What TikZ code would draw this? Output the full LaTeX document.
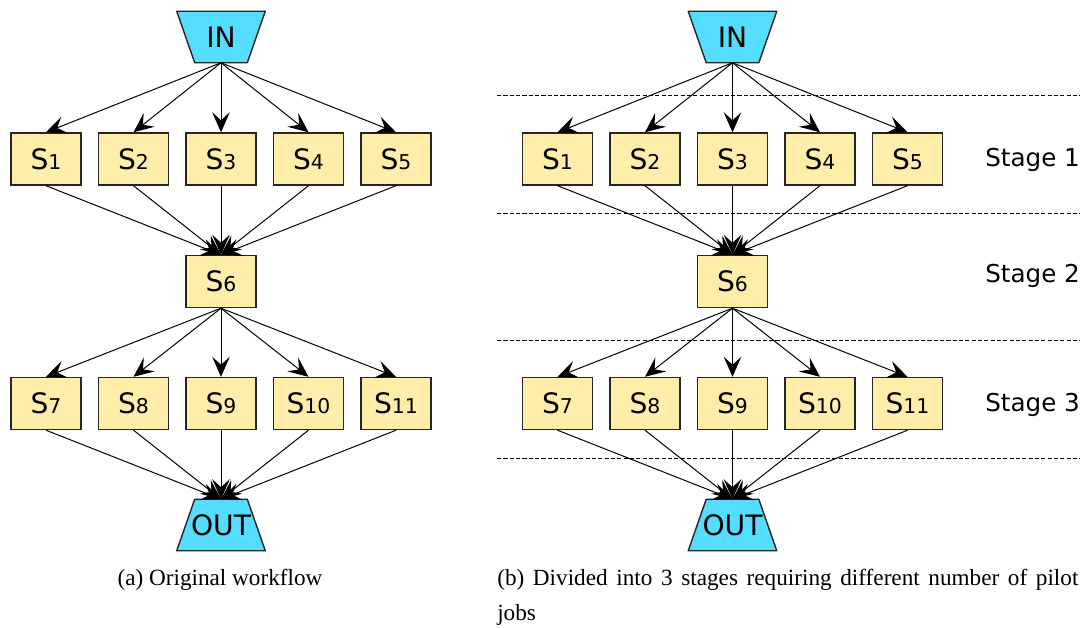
\documentclass[tikz,border=0pt]{standalone}
\usepackage{fontspec}
\setmainfont{Liberation Serif}
\setsansfont{DejaVu Sans}
\usetikzlibrary{arrows.meta,backgrounds}

\definecolor{taskfill}{RGB}{255,238,170}
\definecolor{iofill}{RGB}{85,221,255}
\newcommand{\stask}[1]{S{\fontsize{14.5}{14.5}\selectfont #1}}

\tikzset{
  task/.style={draw=black!85, fill=taskfill, line width=1pt,
    minimum width=1.75cm, minimum height=1.3cm, inner sep=0pt,
    font=\sffamily\fontsize{20}{20}\selectfont},
  io/.style={minimum width=2.2cm, minimum height=1.275cm, inner sep=0pt,
    font=\sffamily\fontsize{20}{20}\selectfont},
  iobody/.style={draw=black!85, fill=iofill, line width=1pt, line join=round},
  flow/.style={-{Stealth[length=5mm,width=4.4mm,inset=2mm]}, line width=0.7pt},
  stageline/.style={dash pattern=on 3pt off 1.5pt, line width=0.5pt},
  stagelabel/.style={anchor=base west, inner sep=0pt,
    font=\sffamily\fontsize{17.5}{18}\selectfont},
  caption/.style={inner sep=0pt, font=\fontsize{16.5}{25}\selectfont},
}

\begin{document}
\begin{tikzpicture}[x=0.025cm, y=-0.025cm]
\useasboundingbox (0,0) rectangle (1085,628);

% the same workflow twice, (a) left and (b) right
\foreach \p/\dx in {a/0, b/511.5} {
  \begin{scope}[shift={(\dx,0)}]
    \node[io] (\p-in) at (221,37) {IN};
    \node[io] (\p-out) at (221,525) {OUT};
    \node[task] (\p-s6) at (221,281.5) {\stask{6}};
    \foreach \i/\x in {1/46, 2/133.5, 3/221, 4/308.5, 5/396} {
      \pgfmathtruncatemacro{\j}{\i+6}
      \node[task] (\p-s\i) at (\x,159) {\stask{\i}};
      \node[task] (\p-s\j) at (\x,403.5) {\stask{\j}};
    }
    % trapezoids behind IN and OUT
    \begin{scope}[on background layer]
      \path[iobody] (\p-in.north west) -- (\p-in.north east)
        -- ([xshift=-0.45cm]\p-in.south east) -- ([xshift=0.45cm]\p-in.south west) -- cycle;
      \path[iobody] ([xshift=0.45cm]\p-out.north west) -- ([xshift=-0.45cm]\p-out.north east)
        -- (\p-out.south east) -- (\p-out.south west) -- cycle;
    \end{scope}
    \foreach \i in {1,...,5} {
      \pgfmathtruncatemacro{\j}{\i+6}
      \draw[flow] (\p-in.south) -- (\p-s\i.north);
      \draw[flow] (\p-s\i.south) -- (\p-s6.north);
      \draw[flow] (\p-s6.south) -- (\p-s\j.north);
      \draw[flow] (\p-s\j.south) -- (\p-out.north);
    }
  \end{scope}
}

% stages
\foreach \y in {95,213,340,458}
  \draw[stageline] (497,\y) -- (1080,\y);
\node[stagelabel] (stage1) at (985,167) {Stage 1};
\node[stagelabel] (stage2) at (985,283) {Stage 2};
\node[stagelabel] (stage3) at (985,412) {Stage 3};

% captions
\node[caption, anchor=base] (cap-a) at (220,585) {(a) Original workflow};
\node[caption, anchor=base west, text width=14.525cm, align=justify] (cap-b) at (497,585)
  {(b) Divided into 3 stages requiring different number of pilot jobs};
\end{tikzpicture}
\end{document}
